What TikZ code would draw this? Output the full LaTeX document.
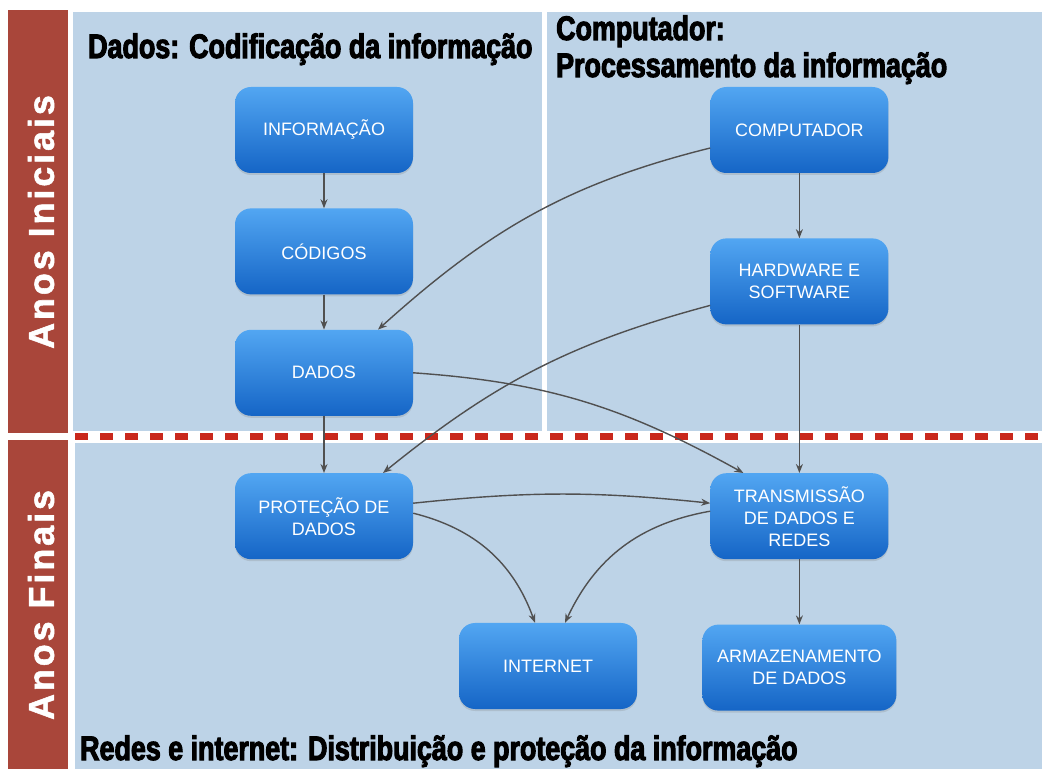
\documentclass[tikz,border=0pt]{standalone}
\usepackage{fontspec}
\setmainfont{Liberation Sans}
\newfontfamily\titlefont[FakeStretch=0.79,BoldFeatures={FakeBold=3}]{Liberation Sans}
\newfontfamily\sidefont[LetterSpace=8,BoldFeatures={FakeBold=1.5}]{Liberation Sans}
\usepackage{xcolor}
\usetikzlibrary{arrows.meta,shapes,positioning,shadows,calc}
\definecolor{barred}{HTML}{A9463A}
\definecolor{panelblue}{HTML}{BDD3E7}
\definecolor{dashred}{HTML}{C9281C}
\definecolor{boxtop}{HTML}{52A6F2}
\definecolor{boxbottom}{HTML}{1565C6}
\definecolor{linkgray}{HTML}{505050}

\begin{document}
\begin{tikzpicture}[x=1pt,y=1pt,
    box/.style={rounded corners=16pt, minimum width=178pt, minimum height=86pt,
        top color=boxtop, bottom color=boxbottom, text=white, align=center,
        font=\fontsize{18}{22}\selectfont,
        drop shadow={opacity=0.25, shadow xshift=0pt, shadow yshift=-2pt}},
    link/.style={-{Stealth[length=9pt,width=7pt]}, draw=linkgray, line width=1.4pt},
    title/.style={anchor=base west, inner sep=0pt, font=\titlefont\bfseries\fontsize{34}{34}\selectfont},
    side/.style={rotate=90, text=white, inner sep=0pt, font=\sidefont\bfseries\fontsize{36}{36}\selectfont}]
    \useasboundingbox (0,0) rectangle (1042,769);
    \fill[white] (0,0) rectangle (1042,769);
    \fill[barred] (8,336) rectangle (68,759);
    \fill[barred] (8,0) rectangle (68,329);
    \fill[panelblue] (73,338) rectangle (542,757);
    \fill[panelblue] (547,338) rectangle (1042,757);
    \fill[panelblue] (75,0) rectangle (1042,326);
    \draw[dashred, line width=7pt, dash pattern=on 13pt off 12pt] (75,332) -- (1042,332);

    \node[side] (iniciais) at (41,547) {Anos Iniciais};
    \node[side] (finais) at (41,164) {Anos Finais};

    \node[title] (tdados) at (88,711) {Dados: Codificação da informação};
    \node[title] (tcomp) at (556,729) {Computador:};
    \node[title] (tproc) at (556,692) {Processamento da informação};
    \node[title] (tredes) at (80,9) {Redes e internet: Distribuição e proteção da informação};

    \node[box] (info) at (324,639) {INFORMAÇÃO};
    \node[box, below=35pt of info] (cod) {CÓDIGOS};
    \node[box, below=35pt of cod] (dados) {DADOS};
    \node[box, below=57pt of dados] (prot) {PROTEÇÃO DE\\DADOS};
    \node[box, right=297pt of info] (comp) {COMPUTADOR};
    \node[box, below=65pt of comp] (hw) {HARDWARE E\\SOFTWARE};
    \node[box, right=297pt of prot] (trans) {TRANSMISSÃO\\DE DADOS E\\REDES};
    \node[box, minimum width=194pt, below=65pt of trans] (arm) {ARMAZENAMENTO\\DE DADOS};
    \node[box] (net) at (548,103) {INTERNET};

    \draw[link] (info) -- (cod);
    \draw[link] (cod) -- (dados);
    \draw[link] (dados) -- (prot);
    \draw[link] (comp) -- (hw);
    \draw[link] (hw) -- (trans);
    \draw[link] (trans) -- (arm);
    \draw[link] ([yshift=-18pt]comp.west) to[out=194,in=42] ([xshift=54pt]dados.north);
    \draw[link] ([yshift=-24pt]hw.west) to[out=195,in=39] ([xshift=59pt]prot.north);
    \draw[link] (dados.east) to[out=-4,in=151] ([xshift=-56pt]trans.north);
    \draw[link] ([yshift=13pt]prot.east) to[out=6,in=174] ([yshift=13pt]trans.west);
    \draw[link] ([yshift=3pt]prot.east) to[out=-14,in=110] ([xshift=-13pt]net.north);
    \draw[link] ([yshift=5pt]trans.west) to[out=190,in=65] ([xshift=17pt]net.north);
\end{tikzpicture}
\end{document}
